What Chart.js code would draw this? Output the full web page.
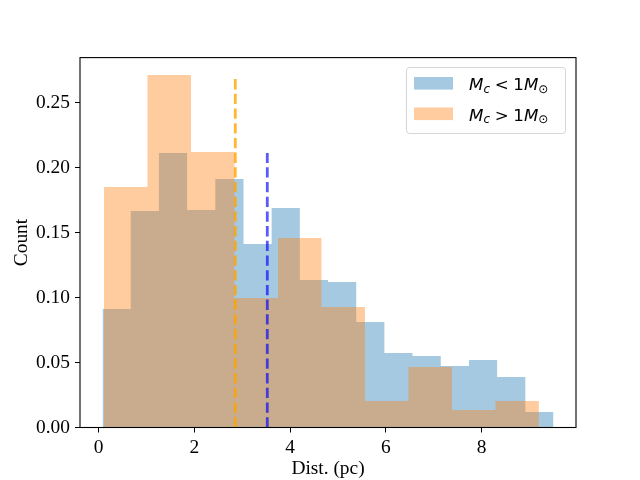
<!DOCTYPE html>
<html>
<head>
<meta charset="utf-8">
<script src="https://cdn.jsdelivr.net/npm/chart.js@4.4.1/dist/chart.umd.min.js"></script>
<style>
    html, body { margin: 0; padding: 0; background: #fff; }
    canvas { display: block; }
</style>
</head>
<body>
<canvas id="distChart" width="640" height="480"></canvas>
<script>
// Histogram bin edges (pc) and normalised heights
const lowMassEdges = [0.085, 0.673, 1.262, 1.850, 2.439, 3.027, 3.615, 4.204, 4.792,
                      5.381, 5.969, 6.557, 7.146, 7.734, 8.323, 8.911, 9.499];
const lowMassValues = [0.0912, 0.1665, 0.2112, 0.1673, 0.1912, 0.1412, 0.1688, 0.1135,
                       0.1119, 0.0812, 0.0573, 0.0550, 0.0473, 0.0519, 0.0388, 0.0119];
const highMassEdges = [0.115, 1.023, 1.931, 2.839, 3.747, 4.655, 5.563, 6.471, 7.379, 8.287, 9.195];
const highMassValues = [0.1850, 0.2712, 0.2119, 0.0996, 0.1458, 0.0927, 0.0204, 0.0465, 0.0135, 0.0204];

// Dashed markers (pc)
const lowMassMarker = 3.524;
const highMassMarker = 2.856;

const seriesLabels = ["M_c < 1M_\u2299", "M_c > 1M_\u2299"];
const xTicks = [0, 2, 4, 6, 8];
const yTicks = [0, 0.05, 0.10, 0.15, 0.20, 0.25];
const xRange = [-0.386, 9.969];
const yRange = [0, 0.2845];

const blueFill = "rgba(31,119,180,0.4)";
const orangeFill = "rgba(255,127,14,0.4)";
const serif = "'Liberation Serif', 'DejaVu Serif', serif";

// turn edges + heights into a closed step outline
function histOutline(edges, values) {
    const pts = [];
    values.forEach((v, i) => {
        pts.push({ x: edges[i], y: v });
        pts.push({ x: edges[i + 1], y: v });
    });
    return pts;
}

function markerLine(x, top) {
    return [{ x: x, y: 0 }, { x: x, y: top }];
}

// draws "M_c < 1M_o" style labels: "_" makes the next char a subscript
function drawMathLabel(ctx, text, x, y, size) {
    let cx = x;
    for (let i = 0; i < text.length; i++) {
        let ch = text[i];
        let sub = false;
        if (ch === "_") { sub = true; ch = text[++i]; }
        if (ch === " ") { cx += size * 0.28; continue; }
        const italic = /[A-Za-z]/.test(ch);
        const fs = sub ? size * 0.72 : size;
        ctx.font = (italic ? "italic " : "") + fs + "px 'DejaVu Sans'";
        ctx.fillText(ch, cx, sub ? y + size * 0.17 : y);
        cx += ctx.measureText(ch).width;
    }
}

// full box round the axes, like matplotlib spines
const framePlugin = {
    id: "frame",
    afterDatasetsDraw(chart) {
        const { ctx, chartArea: a } = chart;
        ctx.save();
        ctx.strokeStyle = "#000";
        ctx.lineWidth = 1.1;
        ctx.strokeRect(a.left, a.top, a.right - a.left, a.bottom - a.top);
        ctx.restore();
    }
};

const legendPlugin = {
    id: "mathLegend",
    afterDraw(chart) {
        const ctx = chart.ctx;
        const fills = [blueFill, orangeFill];
        ctx.save();
        // frame
        ctx.beginPath();
        ctx.roundRect(406.5, 67.5, 159, 66, 3);
        ctx.fillStyle = "rgba(255,255,255,0.8)";
        ctx.fill();
        ctx.strokeStyle = "rgba(204,204,204,0.8)";
        ctx.lineWidth = 1;
        ctx.stroke();
        ctx.textBaseline = "alphabetic";
        seriesLabels.forEach((label, i) => {
            const rowY = 83.3 + i * 30.5;
            ctx.fillStyle = fills[i];
            ctx.fillRect(414, rowY - 6.3, 39, 12.6);
            ctx.fillStyle = "#000";
            drawMathLabel(ctx, label, 469, rowY + 6.7, 16.7);
        });
        ctx.restore();
    }
};

const chart = new Chart(document.getElementById("distChart"), {
    type: "line",
    data: {
        datasets: [
            {
                label: "marker high",
                data: markerLine(highMassMarker, Math.max(...highMassValues)),
                borderColor: "rgba(255,165,0,0.8)",
                borderWidth: 2.8,
                borderDash: [10.3, 4.4],
                pointRadius: 0,
                fill: false,
                order: 0
            },
            {
                label: "marker low",
                data: markerLine(lowMassMarker, Math.max(...lowMassValues)),
                borderColor: "rgba(0,0,255,0.65)",
                borderWidth: 2.8,
                borderDash: [10.3, 4.4],
                pointRadius: 0,
                fill: false,
                order: 0
            },
            {
                label: seriesLabels[1],
                data: histOutline(highMassEdges, highMassValues),
                borderWidth: 0,
                borderColor: "rgba(0,0,0,0)",
                backgroundColor: orangeFill,
                pointRadius: 0,
                fill: "origin",
                tension: 0,
                order: 1
            },
            {
                label: seriesLabels[0],
                data: histOutline(lowMassEdges, lowMassValues),
                borderWidth: 0,
                borderColor: "rgba(0,0,0,0)",
                backgroundColor: blueFill,
                pointRadius: 0,
                fill: "origin",
                tension: 0,
                order: 2
            }
        ]
    },
    options: {
        responsive: false,
        animation: false,
        devicePixelRatio: 1,
        layout: { padding: { top: 57.6, right: 64, left: 0, bottom: 0 } },
        plugins: {
            legend: { display: false },
            tooltip: { enabled: false }
        },
        scales: {
            x: {
                type: "linear",
                min: xRange[0],
                max: xRange[1],
                afterBuildTicks: (s) => { s.ticks = xTicks.map(v => ({ value: v })); },
                afterFit: (s) => { s.height = 52.5; },
                grid: { drawOnChartArea: false, drawTicks: true, tickLength: 5, color: "#000" },
                border: { display: false },
                ticks: {
                    color: "#000",
                    padding: 4,
                    maxRotation: 0,
                    font: { family: serif, size: 19.4 },
                    callback: (v) => String(v)
                },
                title: {
                    display: true,
                    text: "Dist. (pc)",
                    color: "#000",
                    font: { family: serif, size: 19.4 },
                    padding: { top: 0, bottom: -1 }
                }
            },
            y: {
                type: "linear",
                min: yRange[0],
                max: yRange[1],
                afterBuildTicks: (s) => { s.ticks = yTicks.map(v => ({ value: v })); },
                afterFit: (s) => { s.width = 80; },
                grid: { drawOnChartArea: false, drawTicks: true, tickLength: 5, color: "#000" },
                border: { display: false },
                ticks: {
                    color: "#000",
                    padding: 5,
                    font: { family: serif, size: 19.4 },
                    callback: (v) => v.toFixed(2)
                },
                title: {
                    display: true,
                    text: "Count",
                    color: "#000",
                    font: { family: serif, size: 19.4 },
                    padding: { top: 10, bottom: 0 }
                }
            }
        }
    },
    plugins: [framePlugin, legendPlugin]
});
</script>
</body>
</html>
